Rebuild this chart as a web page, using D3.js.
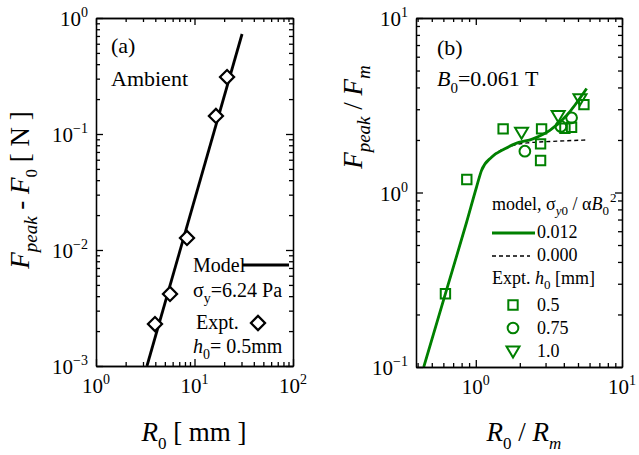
<!DOCTYPE html>
<html><head><meta charset="utf-8">
<script src="https://cdn.jsdelivr.net/npm/d3@7"></script>
<style>
body{margin:0;background:#fff}
svg{display:block}
text{font-family:"Liberation Serif","Times New Roman",serif;fill:#000}
</style>
</head><body>
<svg id="chart" width="639" height="455"></svg>
<script>
// ---- Panel (a): ambient peak force against radius ----
const ambientR = [3.97, 5.64, 8.39, 16.5, 21.4];
const ambientF = [0.0023, 0.00418, 0.0127, 0.143, 0.31];
const modelAR = [3.29, 30.4];
const modelAF = [0.001, 0.728];
const aXTickExp = [0, 1, 2];
const aYTickExp = [-3, -2, -1, 0];

// ---- Panel (b): normalised peak force against normalised radius ----
const sqX = [0.62, 0.868, 1.538, 2.818, 2.774, 2.774, 4.07, 4.52, 5.49];
const sqY = [0.263, 1.187, 2.317, 2.317, 1.90, 1.525, 2.336, 2.367, 3.19];
const ciX = [2.166, 3.82, 4.52];
const ciY = [1.724, 2.39, 2.68];
const trX = [2.056, 3.66, 5.16];
const trY = [2.216, 2.76, 3.44];
const model012X = [0.4406, 0.62, 0.864, 1.011, 1.094, 1.281, 1.58, 1.85, 2.46, 3.21, 4.18, 5.73];
const model012Y = [0.1, 0.263, 0.673, 1.072, 1.337, 1.593, 1.78, 1.90, 2.03, 2.27, 2.76, 3.94];
const model000X = [0.4406, 0.62, 0.864, 1.011, 1.094, 1.281, 1.71, 2.34, 3.21, 5.85];
const model000Y = [0.1, 0.263, 0.673, 1.072, 1.337, 1.593, 1.835, 1.93, 1.96, 2.0];
const bXTickExp = [0, 1];
const bYTickExp = [-1, 0, 1];
const legendB = ["0.012", "0.000"];
const legendH = ["0.5", "0.75", "1.0"];

const GREEN = "#008000";
const svg = d3.select("#chart");

// text with sub/superscript pieces: parts = [{t, it, off, size}]
function rich(g, x, y, parts, size, anchor) {
  const t = g.append("text").attr("x", x).attr("y", y)
    .attr("font-size", size).attr("text-anchor", anchor || "start");
  let cur = 0;
  parts.forEach(p => {
    const off = p.off || 0;
    const s = t.append("tspan").text(p.t).attr("dy", off - cur);
    cur = off;
    if (p.size) s.attr("font-size", p.size);
    if (p.it) s.attr("font-style", "italic");
    if (p.dx) s.attr("dx", p.dx);
  });
  return t;
}

function minors(scale) {
  const [d0, d1] = scale.domain();
  const out = [];
  for (let e = Math.floor(Math.log10(d0)); e < Math.ceil(Math.log10(d1)); e++)
    for (let k = 2; k <= 9; k++) {
      const v = k * Math.pow(10, e);
      if (v > d0 * 1.0001 && v < d1 * 0.9999) out.push(v);
    }
  return out;
}

// framed log-log box with inward ticks on all four sides
function frame(g, x, y, xExp, yExp) {
  const [xl, xr] = x.range(), [yb, yt] = y.range();
  const xMaj = xExp.map(e => Math.pow(10, e)), yMaj = yExp.map(e => Math.pow(10, e));
  const xMin = minors(x), yMin = minors(y);
  const defs = [
    [d3.axisBottom, x, `translate(0,${yb})`],
    [d3.axisTop, x, `translate(0,${yt})`],
    [d3.axisLeft, y, `translate(${xl},0)`],
    [d3.axisRight, y, `translate(${xr},0)`]
  ];
  defs.forEach(([ax, sc, tr]) => {
    const maj = sc === x ? xMaj : yMaj, mn = sc === x ? xMin : yMin;
    g.append("g").attr("transform", tr)
      .call(ax(sc).tickValues(mn).tickSize(-4).tickSizeOuter(0).tickFormat(""));
    g.append("g").attr("transform", tr)
      .call(ax(sc).tickValues(maj).tickSize(-7).tickSizeOuter(0).tickFormat(""));
  });
  g.selectAll(".domain, .tick line").attr("stroke", "#000").attr("stroke-width", 1.3);
  // tick labels 10^n
  xExp.forEach(e => rich(g, x(Math.pow(10, e)), yb + 27,
    [{t: "10"}, {t: String(e).replace("-", "\u2212"), off: -9, size: 14}], 21, "middle"));
  yExp.forEach(e => rich(g, xl - 8, y(Math.pow(10, e)) + 8,
    [{t: "10"}, {t: String(e).replace("-", "\u2212"), off: -9, size: 14}], 21, "end"));
}

// ================= Panel (a) =================
const xA = d3.scaleLog().domain([1, 100]).range([96, 293]);
const yA = d3.scaleLog().domain([1e-3, 1]).range([366, 18]);
const gA = svg.append("g");

gA.append("path")
  .datum(modelAR.map((r, i) => [r, modelAF[i]]))
  .attr("fill", "none").attr("stroke", "#000").attr("stroke-width", 2.8)
  .attr("d", d3.line().x(d => xA(d[0])).y(d => yA(d[1])));

const diamond = d3.symbol().type(d3.symbolSquare).size(100);
gA.selectAll(".dia").data(ambientR.map((r, i) => [r, ambientF[i]])).join("path")
  .attr("d", diamond)
  .attr("transform", d => `translate(${xA(d[0])},${yA(d[1])}) rotate(45)`)
  .attr("fill", "#fff").attr("stroke", "#000").attr("stroke-width", 2.2);

frame(gA, xA, yA, aXTickExp, aYTickExp);

rich(gA, 111, 53, [{t: "(a)"}], 22);
rich(gA, 111, 86, [{t: "Ambient"}], 22);

// legend (a)
rich(gA, 193, 272, [{t: "Model"}], 20);
gA.append("line").attr("x1", 242).attr("x2", 289).attr("y1", 265).attr("y2", 265)
  .attr("stroke", "#000").attr("stroke-width", 2.8);
rich(gA, 193, 297, [{t: "\u03c3"}, {t: "y", off: 6, size: 14}, {t: "=6.24 Pa", off: 0}], 20);
rich(gA, 196, 329, [{t: "Expt."}], 20);
gA.append("path").attr("d", diamond)
  .attr("transform", "translate(258,323) rotate(45)")
  .attr("fill", "#fff").attr("stroke", "#000").attr("stroke-width", 2.2);
rich(gA, 193, 353, [{t: "h", it: true}, {t: "0", off: 6, size: 14}, {t: "= 0.5mm", off: 0}], 20);

// axis titles (a)
rich(gA, 194, 441, [{t: "R", it: true}, {t: "0", off: 8, size: 17}, {t: " [ mm ]", off: 0}], 27, "middle");
rich(gA.append("g").attr("transform", "translate(29,190) rotate(-90)"), 0, 0,
  [{t: "F", it: true}, {t: "peak", it: true, off: 8, size: 19},
   {t: " - ", off: 0}, {t: "F", it: true}, {t: "0", off: 8, size: 17}, {t: " [ N ]", off: 0}], 27, "middle");

// ================= Panel (b) =================
const xB = d3.scaleLog().domain([0.39, 10]).range([416, 622]);
const yB = d3.scaleLog().domain([0.1, 10]).range([367, 18]);
const gB = svg.append("g");
gB.append("clipPath").attr("id", "clipB").append("rect")
  .attr("x", 416).attr("y", 18).attr("width", 206).attr("height", 349);

const lineB = d3.line().x(d => xB(d[0])).y(d => yB(d[1])).curve(d3.curveMonotoneX);
gB.append("path").datum(model000X.map((v, i) => [v, model000Y[i]]))
  .attr("clip-path", "url(#clipB)")
  .attr("fill", "none").attr("stroke", "#000").attr("stroke-width", 1.4)
  .attr("stroke-dasharray", "4,3").attr("d", lineB);
gB.append("path").datum(model012X.map((v, i) => [v, model012Y[i]]))
  .attr("clip-path", "url(#clipB)")
  .attr("fill", "none").attr("stroke", GREEN).attr("stroke-width", 2.8).attr("d", lineB);

const sqSym = d3.symbol().type(d3.symbolSquare).size(88);
const ciSym = d3.symbol().type(d3.symbolCircle).size(90);
const triPath = "M-6.5,-4.5L6.5,-4.5L0,6.5Z";
function markers(xs, ys, draw) {
  gB.append("g").selectAll("path").data(xs.map((v, i) => [v, ys[i]])).join("path")
    .attr("d", draw).attr("transform", d => `translate(${xB(d[0])},${yB(d[1])})`)
    .attr("fill", "none").attr("stroke", GREEN).attr("stroke-width", 2);
}
markers(sqX, sqY, sqSym);
markers(ciX, ciY, ciSym);
markers(trX, trY, triPath);

frame(gB, xB, yB, bXTickExp, bYTickExp);

rich(gB, 437, 55, [{t: "(b)"}], 22);
rich(gB, 437, 86, [{t: "B", it: true}, {t: "0", off: 7, size: 15}, {t: "=0.061 T", off: 0}], 22);

// legend (b)
rich(gB, 492, 210, [{t: "model, \u03c3"}, {t: "y", it: true, off: 5, size: 13}, {t: "0", off: 5, size: 13},
  {t: " / \u03b1", off: 0}, {t: "B", it: true}, {t: "0", off: 5, size: 13}, {t: "2", off: -8, size: 13, dx: 1}], 18);
gB.append("line").attr("x1", 492).attr("x2", 535).attr("y1", 233).attr("y2", 233)
  .attr("stroke", GREEN).attr("stroke-width", 2.8);
gB.append("line").attr("x1", 492).attr("x2", 530).attr("y1", 256).attr("y2", 256)
  .attr("stroke", "#000").attr("stroke-width", 1.4).attr("stroke-dasharray", "4,3");
rich(gB, 537, 238, [{t: legendB[0]}], 18);
rich(gB, 537, 261, [{t: legendB[1]}], 18);
rich(gB, 492, 284, [{t: "Expt. "}, {t: "h", it: true}, {t: "0", off: 5, size: 13}, {t: " [mm]", off: 0}], 18);
const legSyms = [sqSym, ciSym, triPath];
legendH.forEach((lab, i) => {
  const yy = 305 + i * 23;
  gB.append("path").attr("d", legSyms[i]).attr("transform", `translate(513,${yy})`)
    .attr("fill", "none").attr("stroke", GREEN).attr("stroke-width", 2);
  rich(gB, 537, yy + 6, [{t: lab}], 18);
});

// axis titles (b)
rich(gB, 524, 441, [{t: "R", it: true}, {t: "0", off: 8, size: 17}, {t: " / ", off: 0},
  {t: "R", it: true}, {t: "m", it: true, off: 8, size: 17}], 27, "middle");
rich(gB.append("g").attr("transform", "translate(362,117) rotate(-90)"), 0, 0,
  [{t: "F", it: true}, {t: "peak", it: true, off: 8, size: 19},
   {t: " / ", off: 0}, {t: "F", it: true}, {t: "m", it: true, off: 8, size: 19}], 27, "middle");
</script>
</body></html>
